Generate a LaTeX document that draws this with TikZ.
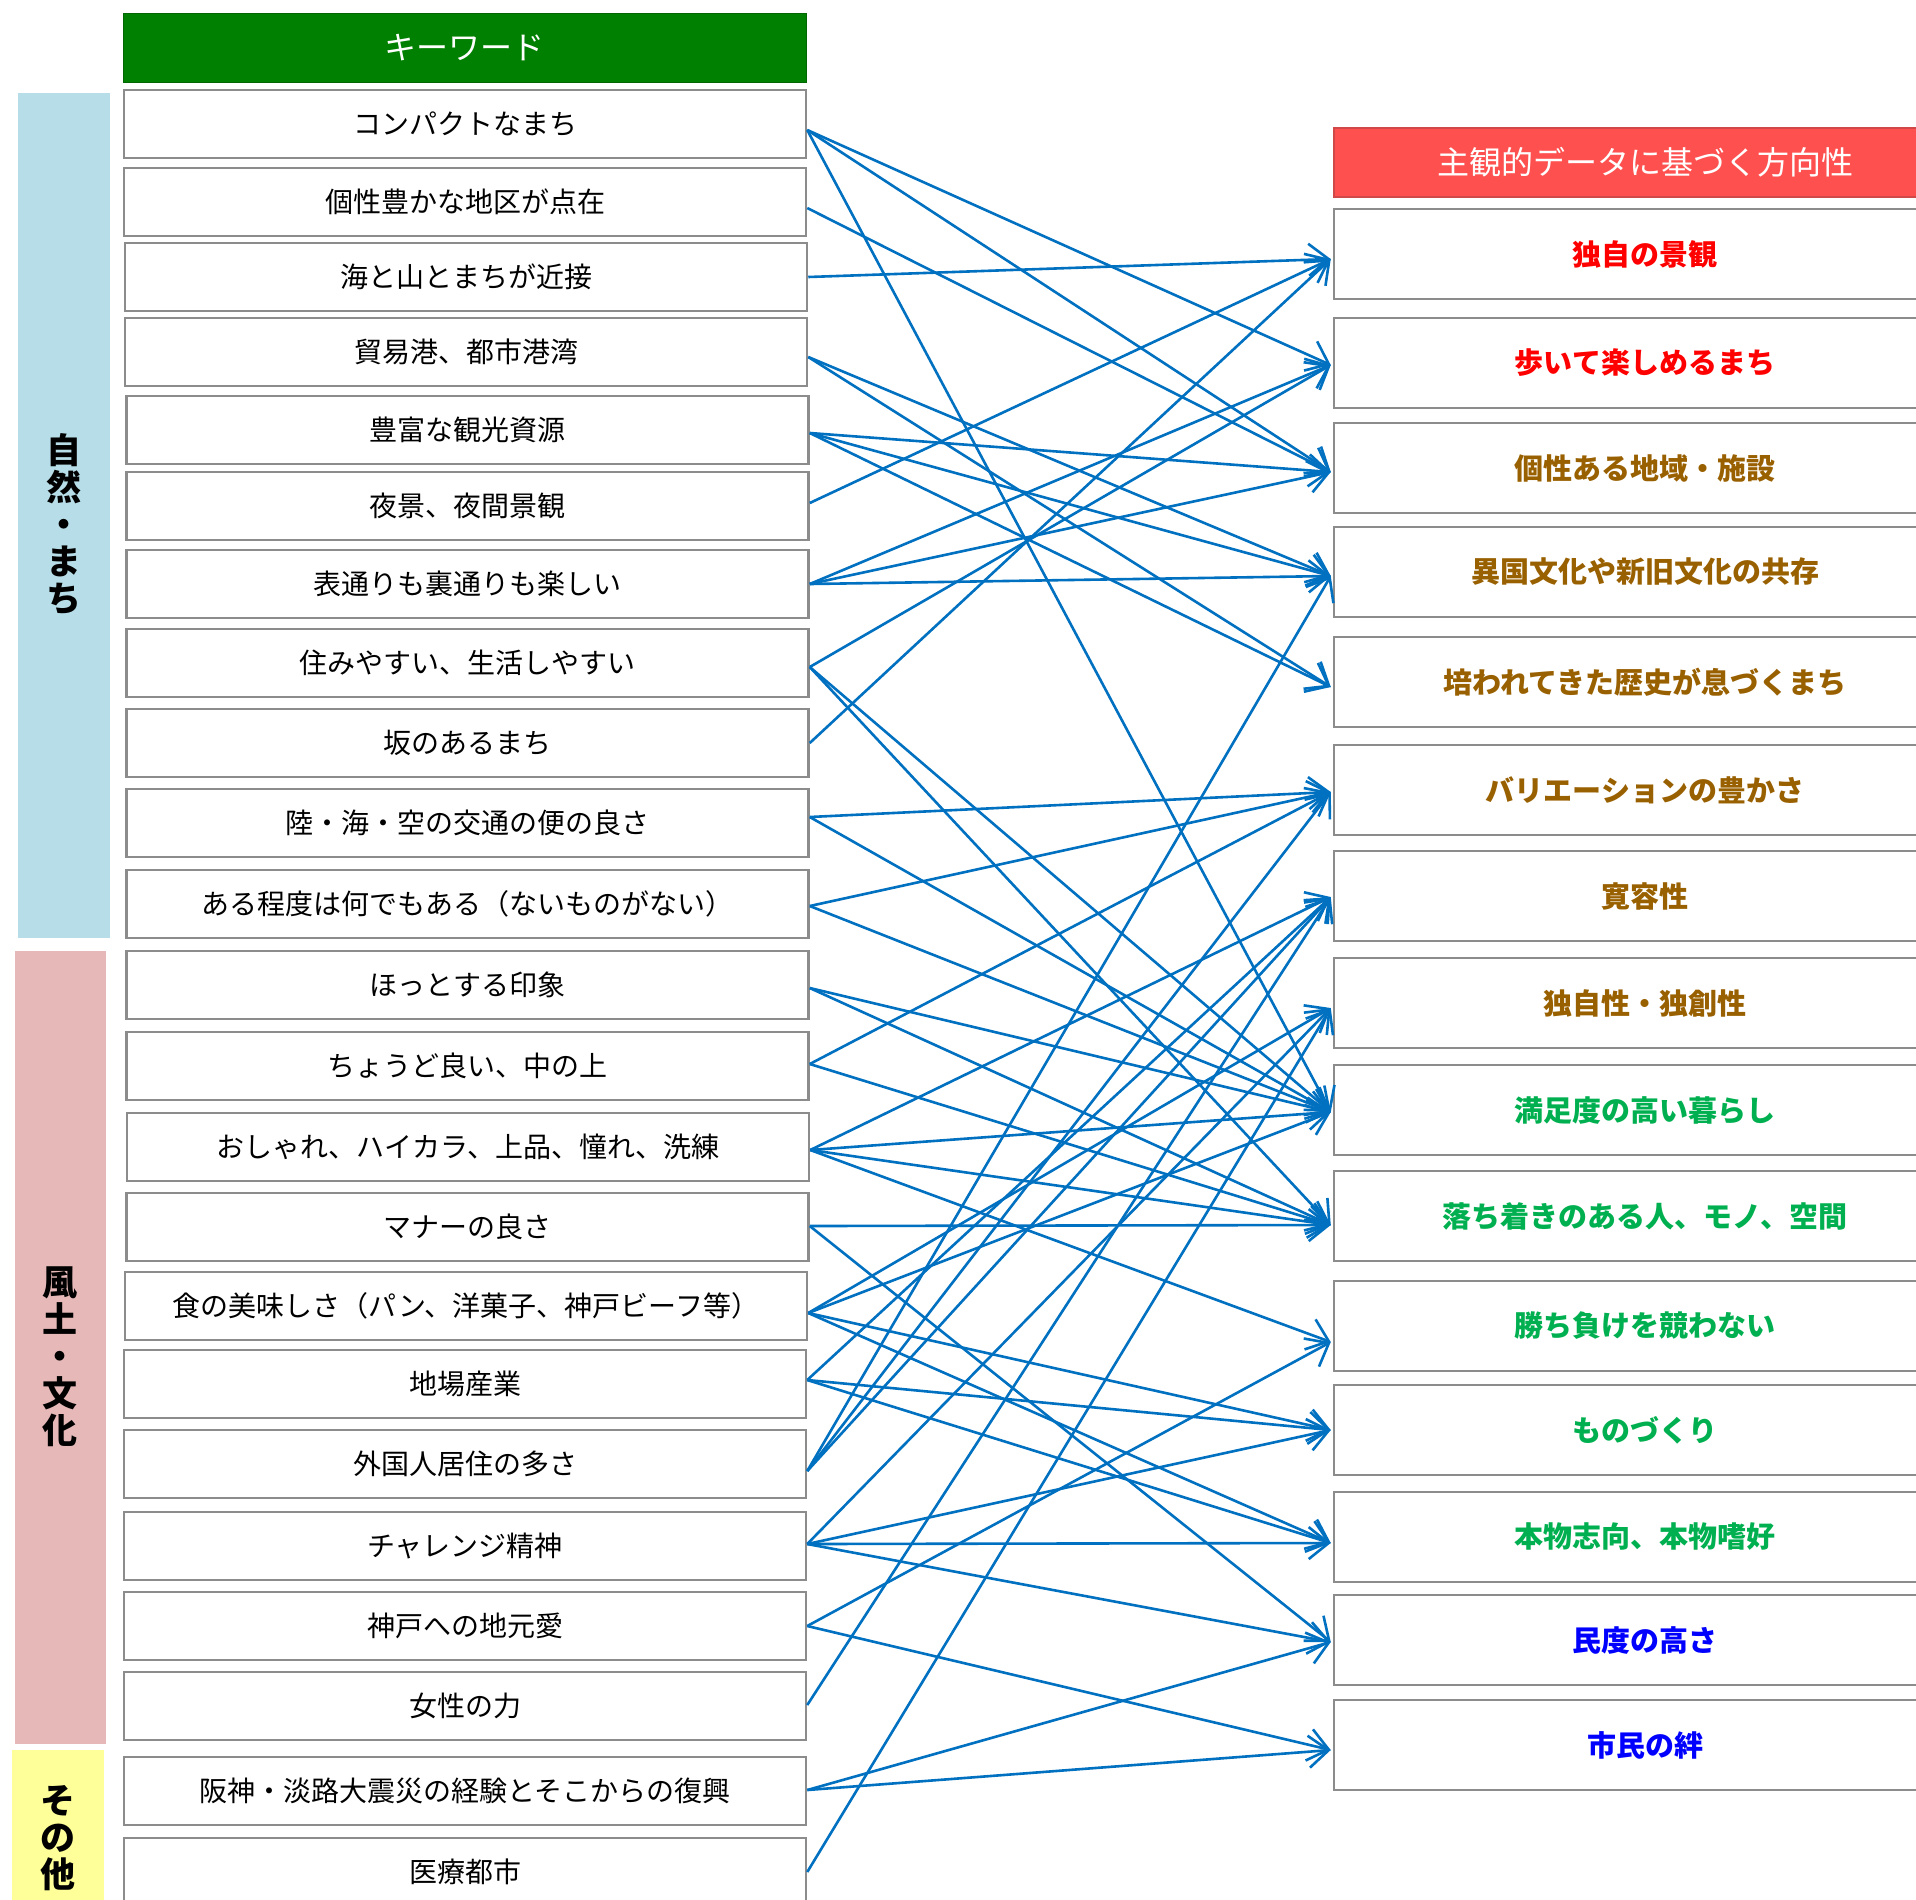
\documentclass[tikz,border=0pt]{standalone}
\usepackage{fontspec}
\setmainfont{Noto Sans CJK JP}
\usetikzlibrary{arrows.meta,calc}
\definecolor{lineblue}{HTML}{0070C0}
\definecolor{boxgray}{HTML}{8C8C8C}
\definecolor{hdrgreen}{HTML}{008000}
\definecolor{hdrred}{HTML}{FF5050}
\definecolor{hdrredborder}{HTML}{D04848}
\definecolor{catblue}{HTML}{B7DEE8}
\definecolor{catpink}{HTML}{E6B9B8}
\definecolor{catyellow}{HTML}{FFFF99}
\definecolor{txtred}{HTML}{FF0000}
\definecolor{txtbrown}{HTML}{996000}
\definecolor{txtgreen}{HTML}{00B050}
\definecolor{txtblue}{HTML}{0000FF}
\begin{document}
\begin{tikzpicture}[x=1pt,y=-1pt,
  kbox/.style={draw=boxgray, line width=2.5pt, fill=white, minimum width=682pt, minimum height=68pt, inner sep=0pt, font=\fontsize{28}{34}\selectfont},
  rbox/.style={draw=boxgray, line width=2.5pt, fill=white, minimum width=622pt, minimum height=90pt, inner sep=0pt, font=\bfseries\fontsize{29}{35}\selectfont},
  cat/.style={inner sep=0pt, font=\bfseries\fontsize{35}{37}\selectfont, align=center},
  conn/.style={draw=lineblue, line width=2.6pt, -{Straight Barb[length=20pt,width=32pt]}}
]
\useasboundingbox (0,0) rectangle (1916,1899);
\clip (0,0) rectangle (1916,1899);
\fill[white] (0,0) rectangle (1916,1899);

% category bars
\fill[catblue] (18,93) rectangle (110,938);
\fill[catpink] (15,951) rectangle (106,1744);
\fill[catyellow] (12,1750) rectangle (104,1905);
\node[cat] (c1) at (64,524) {自\\然\\・\\ま\\ち};
\node[cat] (c2) at (60,1357) {風\\土\\・\\文\\化};
\node[cat] (c3) at (58,1838) {そ\\の\\他};

% headers
\node[fill=hdrgreen, draw=hdrgreen!80!black, line width=1pt, minimum width=683pt, minimum height=69pt, inner sep=0pt, text=white, font=\fontsize{32}{38}\selectfont] (hk) at (464.5,47.5) {キーワード};
\node[fill=hdrred, draw=hdrredborder, line width=2pt, minimum width=622pt, minimum height=69pt, inner sep=0pt, text=white, font=\fontsize{32}{38}\selectfont] (hr) at (1645,162.5) {主観的データに基づく方向性};

% keyword boxes
\node[kbox] (k1) at (465,124) {コンパクトなまち};
\node[kbox] (k2) at (465,202) {個性豊かな地区が点在};
\node[kbox] (k3) at (466,277) {海と山とまちが近接};
\node[kbox] (k4) at (466,352) {貿易港、都市港湾};
\node[kbox] (k5) at (467.5,430) {豊富な観光資源};
\node[kbox] (k6) at (467.5,506) {夜景、夜間景観};
\node[kbox] (k7) at (467.5,584) {表通りも裏通りも楽しい};
\node[kbox] (k8) at (467.5,663) {住みやすい、生活しやすい};
\node[kbox] (k9) at (467.5,743) {坂のあるまち};
\node[kbox] (k10) at (467.5,823) {陸・海・空の交通の便の良さ};
\node[kbox] (k11) at (467.5,904) {ある程度は何でもある（ないものがない）};
\node[kbox] (k12) at (467.5,985) {ほっとする印象};
\node[kbox] (k13) at (467.5,1066) {ちょうど良い、中の上};
\node[kbox] (k14) at (468,1147) {おしゃれ、ハイカラ、上品、憧れ、洗練};
\node[kbox] (k15) at (467.5,1227) {マナーの良さ};
\node[kbox] (k16) at (466,1306) {食の美味しさ（パン、洋菓子、神戸ビーフ等）};
\node[kbox] (k17) at (465,1384) {地場産業};
\node[kbox] (k18) at (465,1464) {外国人居住の多さ};
\node[kbox] (k19) at (465,1546) {チャレンジ精神};
\node[kbox] (k20) at (465,1626) {神戸への地元愛};
\node[kbox] (k21) at (465,1706) {女性の力};
\node[kbox] (k22) at (465,1791) {阪神・淡路大震災の経験とそこからの復興};
\node[kbox] (k23) at (465,1872) {医療都市};

% direction boxes
\node[rbox, text=txtred] (r1) at (1645,254) {独自の景観};
\node[rbox, text=txtred] (r2) at (1645,363) {歩いて楽しめるまち};
\node[rbox, text=txtbrown] (r3) at (1645,468) {個性ある地域・施設};
\node[rbox, text=txtbrown] (r4) at (1645,572) {異国文化や新旧文化の共存};
\node[rbox, text=txtbrown] (r5) at (1645,682) {培われてきた歴史が息づくまち};
\node[rbox, text=txtbrown] (r6) at (1645,790) {バリエーションの豊かさ};
\node[rbox, text=txtbrown] (r7) at (1645,896) {寛容性};
\node[rbox, text=txtbrown] (r8) at (1645,1003) {独自性・独創性};
\node[rbox, text=txtgreen] (r9) at (1645,1110) {満足度の高い暮らし};
\node[rbox, text=txtgreen] (r10) at (1645,1216) {落ち着きのある人、モノ、空間};
\node[rbox, text=txtgreen] (r11) at (1645,1326) {勝ち負けを競わない};
\node[rbox, text=txtgreen] (r12) at (1645,1430) {ものづくり};
\node[rbox, text=txtgreen] (r13) at (1645,1537) {本物志向、本物嗜好};
\node[rbox, text=txtblue] (r14) at (1645,1640) {民度の高さ};
\node[rbox, text=txtblue] (r15) at (1645,1745) {市民の絆};

% connector end points
\foreach \i/\d in {1/6,2/6,3/0,4/5,5/3,6/-3,7/0,8/4,9/0,10/-6,11/2,12/3,13/-2,14/3,15/-1,16/7,17/-4,18/7,19/-2,20/0,21/-1,22/-1,23/0}
  \coordinate (s\i) at ($(k\i.east)+(0,\d)$);
\foreach \i/\d in {1/5,2/2,3/4,4/4,5/5,6/2,7/1,8/5,9/2,10/9,11/16,12/0,13/6,14/2,15/5}
  \coordinate (t\i) at ($(r\i.west)+(-2,\d)$);

\foreach \a/\b in {1/2,1/3,1/9,2/3,3/1,4/4,4/5,5/3,5/4,5/5,6/1,7/2,7/3,7/4,8/2,8/9,8/10,9/1,10/6,10/9,11/6,11/9,12/9,12/10,13/6,13/10,14/7,14/9,14/10,14/11,15/10,15/14,16/8,16/9,16/12,16/13,17/7,17/12,17/13,18/4,18/6,18/7,19/8,19/12,19/13,19/14,20/11,20/15,21/7,22/14,22/15,23/8}
  \draw[conn] (s\a) -- (t\b);
\end{tikzpicture}
\end{document}
